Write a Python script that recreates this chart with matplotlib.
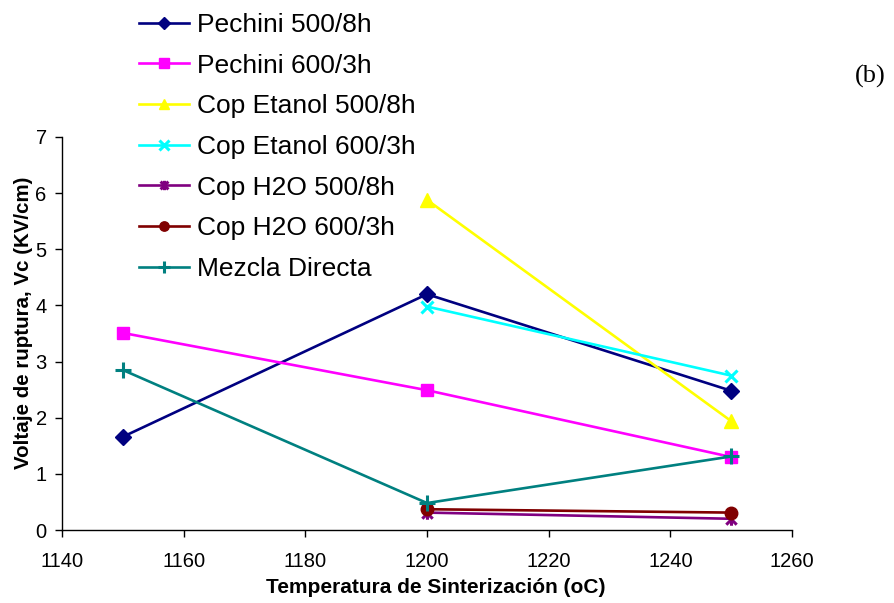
import matplotlib
matplotlib.use("Agg")
import matplotlib.pyplot as plt
from matplotlib.path import Path

# Sintering temperatures (°C)
temps = [1150, 1200, 1250]

# Breakdown voltage Vc (KV/cm) per synthesis route; None = not measured
pechini_500_8h = [1.66, 4.20, 2.48]
pechini_600_3h = [3.51, 2.49, 1.30]
cop_etanol_500_8h = [None, 5.88, 1.94]
cop_etanol_600_3h = [None, 3.98, 2.75]
cop_h2o_500_8h = [None, 0.31, 0.20]
cop_h2o_600_3h = [None, 0.37, 0.31]
mezcla_directa = [2.85, 0.48, 1.31]

labels = ["Pechini 500/8h", "Pechini 600/3h", "Cop Etanol 500/8h",
          "Cop Etanol 600/3h", "Cop H2O 500/8h", "Cop H2O 600/3h",
          "Mezcla Directa"]
series = [pechini_500_8h, pechini_600_3h, cop_etanol_500_8h,
          cop_etanol_600_3h, cop_h2o_500_8h, cop_h2o_600_3h, mezcla_directa]
colors = ["#000080", "#FF00FF", "#FFFF00", "#00FFFF", "#800080",
          "#800000", "#008080"]

# star marker: an "x" crossed by a vertical bar
star = Path([(-1, -1), (1, 1), (-1, 1), (1, -1), (0, -1.2), (0, 1.2)],
            [Path.MOVETO, Path.LINETO, Path.MOVETO, Path.LINETO,
             Path.MOVETO, Path.LINETO])
markers = ["D", "s", "^", "x", star, "o", "+"]
msizes = [8, 9, 10, 9, 9, 9, 11]

x_ticks = [1140, 1160, 1180, 1200, 1220, 1240, 1260]
y_ticks = [0, 1, 2, 3, 4, 5, 6, 7]

plt.rcParams["font.family"] = ["Liberation Sans", "DejaVu Sans"]

fig = plt.figure(figsize=(8.94, 6.03), dpi=100)
ax = fig.add_axes([62 / 894, 1 - 530 / 603, 730 / 894, 393 / 603])

for vals, lab, c, m, ms in zip(series, labels, colors, markers, msizes):
    xs = [t for t, v in zip(temps, vals) if v is not None]
    ys = [v for v in vals if v is not None]
    unfilled = m in ("x", "+") or m is star
    mew = 2.2 if unfilled else 1.0
    ax.plot(xs, ys, color=c, lw=1.9, marker=m, ms=ms, mec=c, mfc=c,
            mew=mew, label=lab, clip_on=False)

ax.set_xlim(1140, 1260)
ax.set_ylim(0, 7)
ax.set_xticks(x_ticks)
ax.set_yticks(y_ticks)
for s in ["top", "right"]:
    ax.spines[s].set_visible(False)
for s in ["left", "bottom"]:
    ax.spines[s].set_linewidth(1.0)
ax.tick_params(axis="both", direction="out", length=5, width=1.0,
               labelsize=14.5, pad=6)
ax.tick_params(axis="x", pad=11)

ax.set_xlabel("Temperatura de Sinterización (oC)", fontsize=15,
              fontweight="bold")
ax.set_ylabel("Voltaje de ruptura, Vc (KV/cm)", fontsize=14.8,
              fontweight="bold")
ax.xaxis.set_label_coords(0.512, -0.122)
ax.yaxis.set_label_coords(-0.040, 0.527)

handles, labs = ax.get_legend_handles_labels()
fig.legend(handles, labs, loc="upper left",
           bbox_to_anchor=(139 / 894, 1 - 13 / 603), frameon=False,
           fontsize=19, handlelength=1.9, handletextpad=0.3,
           labelspacing=0.63, markerscale=0.75, borderaxespad=0,
           borderpad=0)

fig.text(855 / 894, 1 - 76 / 603, "(b)", fontsize=19,
         family=["Liberation Serif", "DejaVu Serif"], va="center", ha="left")

fig.savefig("out.png", dpi=100)
